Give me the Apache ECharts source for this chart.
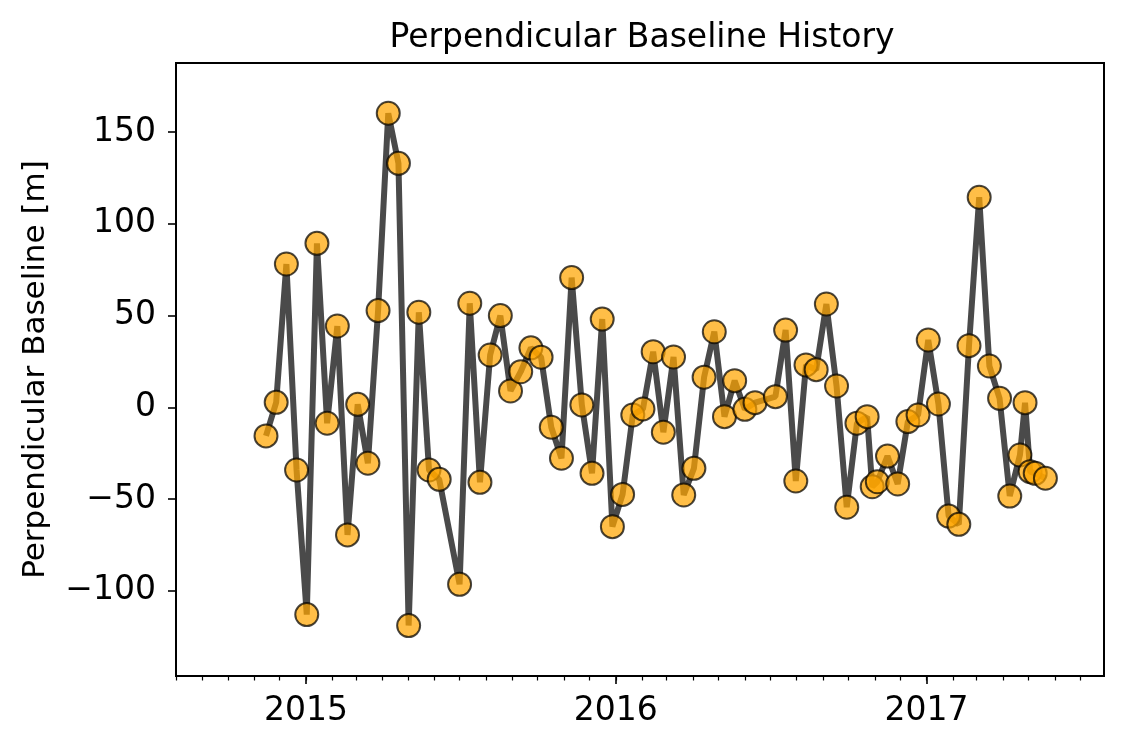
<!DOCTYPE html>
<html>
<head>
<meta charset="utf-8">
<script src="https://cdn.jsdelivr.net/npm/echarts@6/dist/echarts.min.js"></script>
<style>
  html, body { margin: 0; padding: 0; background: #fff; }
  #chart { width: 1125px; height: 750px; }
</style>
</head>
<body>
<div id="chart"></div>
<script>
// ---- data ----
const dates = [
  '2014-11-15','2014-11-27','2014-12-09','2014-12-21',
  '2015-01-02','2015-01-14','2015-01-26','2015-02-07','2015-02-19','2015-03-03','2015-03-15','2015-03-27',
  '2015-04-08','2015-04-20','2015-05-02','2015-05-14','2015-05-26','2015-06-07','2015-07-01','2015-07-13',
  '2015-07-25','2015-08-06','2015-08-18','2015-08-30','2015-09-11','2015-09-23','2015-10-05','2015-10-17',
  '2015-10-29','2015-11-10','2015-11-22','2015-12-04','2015-12-16','2015-12-28',
  '2016-01-09','2016-01-21','2016-02-02','2016-02-14','2016-02-26','2016-03-09','2016-03-21','2016-04-02',
  '2016-04-14','2016-04-26','2016-05-08','2016-05-20','2016-06-01','2016-06-13','2016-07-07','2016-07-19',
  '2016-07-31','2016-08-12','2016-08-24','2016-09-05','2016-09-17','2016-09-29','2016-10-11','2016-10-23',
  '2016-10-29','2016-11-04','2016-11-16','2016-11-28','2016-12-10','2016-12-22',
  '2017-01-03','2017-01-15','2017-01-27','2017-02-08','2017-02-20','2017-03-04','2017-03-16','2017-03-28',
  '2017-04-09','2017-04-21','2017-04-27','2017-05-03','2017-05-09','2017-05-21'
];
const bperp = [
  -15.6, 2.7, 78.1, -34.2,
  -113, 89.4, -8.7, 44.3, -69.6, 1.6, -30.5, 52.7,
  160.3, 133, -119, 51.8, -34.2, -39.3, -96.5, 56.7,
  -40.9, 28.5, 50, 8.9, 19.4, 32.4, 27.3, -10.9,
  -27.8, 70.7, 1.3, -36, 48.1, -65.1,
  -47.5, -4.2, -0.9, 30.3, -13.6, 27.4, -47.8, -33.3,
  16.4, 41.2, -5.1, 14.5, -1.1, 2.5, 5.8, 42.1,
  -40.2, 23.1, 20.5, 56.3, 11.6, -54.5, -8.7, -5.1,
  -43.3, -40.6, -26.6, -41.8, -7.8, -4.2,
  36.7, 1.8, -59.3, -63.8, 33.6, 114.5, 22.5, 4.9,
  -48.4, -26, 2.5, -35.1, -36, -38.7
];
const yearTickLabels = ['2015', '2016', '2017'];
const yTickValues = [-100, -50, 0, 50, 100, 150];
const xRange = ['2014-08-01', '2017-07-29'];
const yRange = [-146.5, 187.7];

// ---- build ----
const ts = s => new Date(s + 'T00:00:00Z').getTime();
const seriesData = dates.map((d, i) => [ts(d), bperp[i]]);
const yearTicks = yearTickLabels.map(y => ts(y + '-01-01'));
const monthTicks = [];
{
  const start = new Date(xRange[0] + 'T00:00:00Z');
  const end = ts(xRange[1]);
  let y = start.getUTCFullYear(), m = start.getUTCMonth();
  while (Date.UTC(y, m, 1) <= end) {
    monthTicks.push(Date.UTC(y, m, 1));
    m++; if (m > 11) { m = 0; y++; }
  }
}

const FONT = 'DejaVu Sans';
const chart = echarts.init(document.getElementById('chart'), null, { renderer: 'canvas' });
chart.setOption({
  animation: false,
  backgroundColor: '#ffffff',
  title: {
    text: 'Perpendicular Baseline History',
    left: 637,
    top: 17,
    textAlign: 'center',
    textStyle: { fontFamily: FONT, fontSize: 33, fontWeight: 'normal', color: '#000' }
  },
  grid: {
    left: 176, right: 21, top: 63, bottom: 74,
    show: true, borderColor: '#000', borderWidth: 2, backgroundColor: 'transparent'
  },
  xAxis: [
    {
      type: 'value',
      min: ts(xRange[0]), max: ts(xRange[1]),
      splitLine: { show: false },
      axisLine: { show: true, onZero: false, lineStyle: { color: '#000', width: 2 } },
      axisTick: { show: true, customValues: yearTicks, length: 8, inside: false, lineStyle: { color: '#000', width: 1.6 } },
      axisLabel: {
        customValues: yearTicks,
        formatter: v => String(new Date(v).getUTCFullYear()),
        fontFamily: FONT, fontSize: 33, color: '#000', margin: 19
      }
    },
    {
      type: 'value',
      position: 'bottom',
      min: ts(xRange[0]), max: ts(xRange[1]),
      splitLine: { show: false },
      axisLine: { show: false, onZero: false },
      axisTick: { show: true, customValues: monthTicks, length: 4.5, lineStyle: { color: '#000', width: 1.2 } },
      axisLabel: { show: false }
    }
  ],
  yAxis: {
    type: 'value',
    min: yRange[0], max: yRange[1],
    name: 'Perpendicular Baseline [m]',
    nameLocation: 'middle',
    nameGap: 125,
    nameTextStyle: { fontFamily: FONT, fontSize: 31, color: '#000' },
    splitLine: { show: false },
    axisLine: { show: true, onZero: false, lineStyle: { color: '#000', width: 2 } },
    axisTick: { show: true, customValues: yTickValues, length: 8, lineStyle: { color: '#000', width: 1.6 } },
    axisLabel: {
      customValues: yTickValues,
      formatter: v => String(v).replace('-', '\u2212'),
      fontFamily: FONT, fontSize: 33, color: '#000', margin: 20
    }
  },
  series: [{
    type: 'line',
    xAxisIndex: 0,
    data: seriesData,
    symbol: 'circle',
    symbolSize: 23,
    showAllSymbol: true,
    clip: false,
    lineStyle: { color: '#4a4a4a', width: 6 },
    itemStyle: { color: 'rgba(255,165,0,0.72)', borderColor: 'rgba(0,0,0,0.72)', borderWidth: 2 },
    emphasis: { disabled: true },
    z: 3
  }]
});
</script>
</body>
</html>
